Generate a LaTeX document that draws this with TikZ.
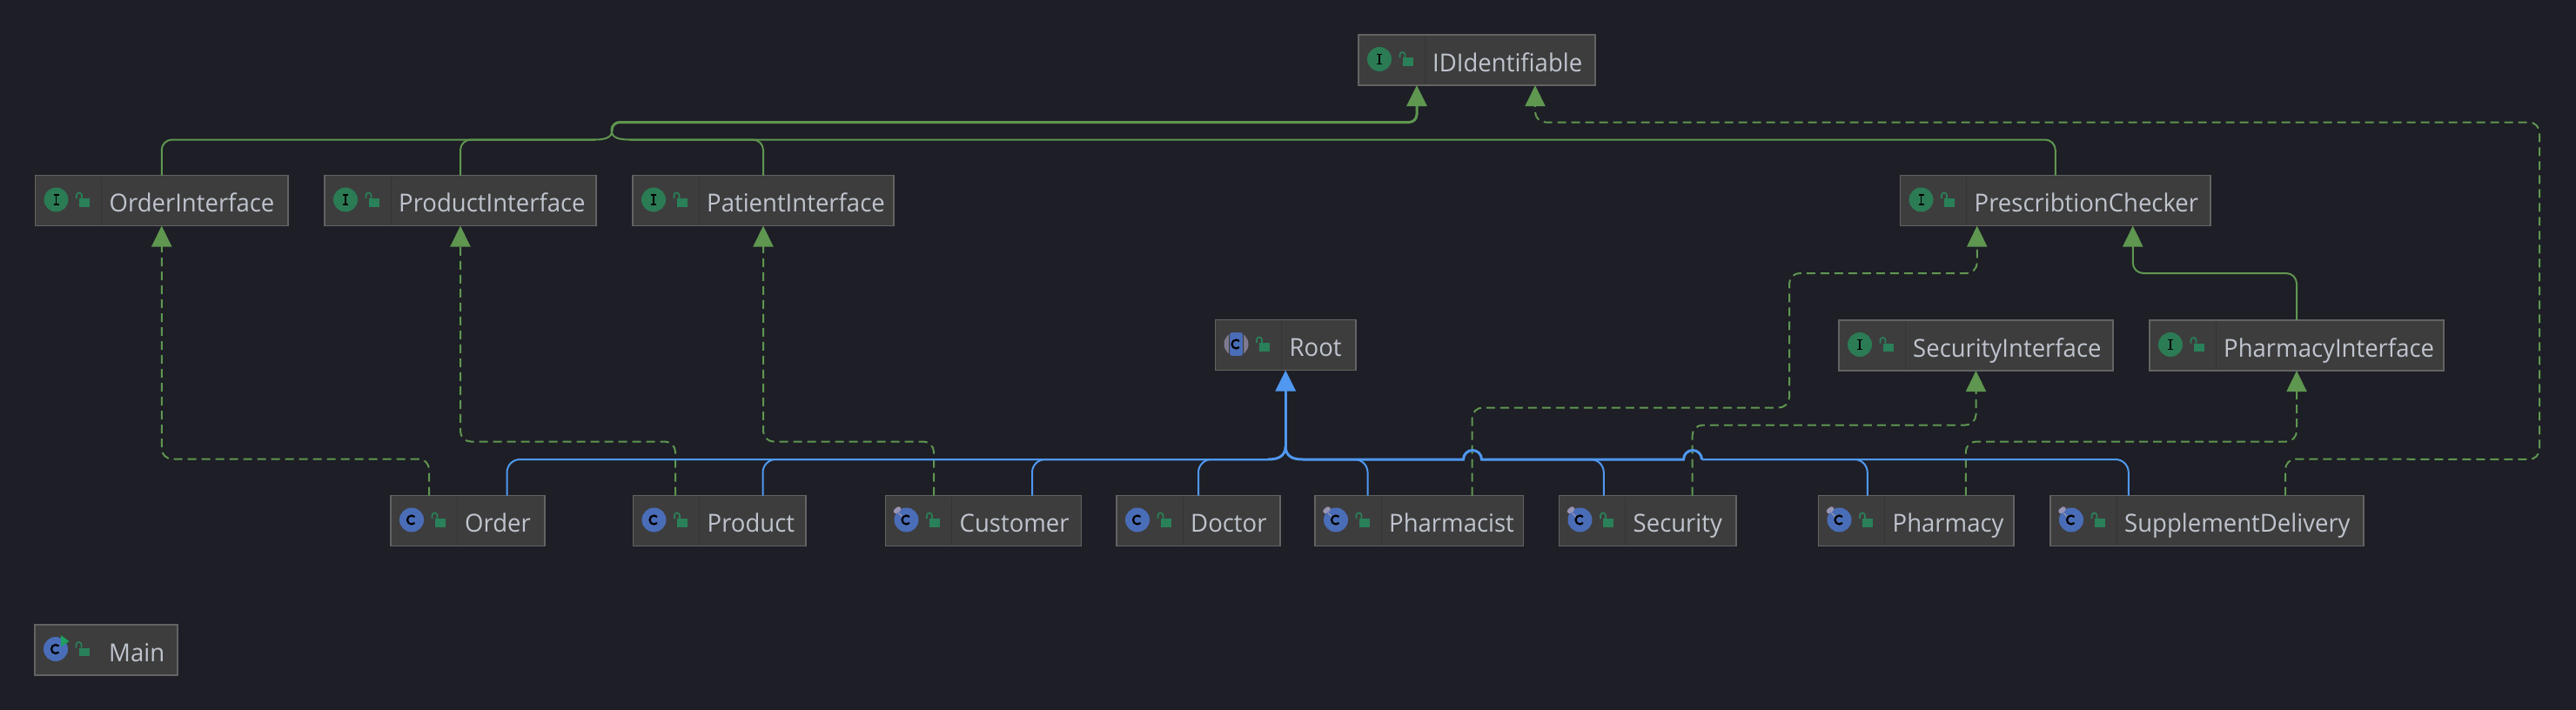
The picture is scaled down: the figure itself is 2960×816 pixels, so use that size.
\documentclass[tikz,border=0pt]{standalone}
\usepackage{fontspec}
\setmainfont{Open Sans}[FakeStretch=0.965]
\usepackage{tikz}
\usetikzlibrary{arrows.meta}
\definecolor{canvas}{HTML}{1D1E26}
\definecolor{boxfill}{HTML}{3D3D3D}
\definecolor{boxline}{HTML}{636363}
\definecolor{boxrule}{HTML}{353535}
\definecolor{labelgrey}{HTML}{BFC4CE}
\definecolor{edgegreen}{HTML}{5F9650}
\definecolor{edgeblue}{HTML}{5098F0}
\definecolor{iconblue}{HTML}{4A6DB8}
\definecolor{icongreen}{HTML}{2B7B55}
\definecolor{lockgreen}{HTML}{2A8059}
\definecolor{pingrey}{HTML}{9A94B4}
\definecolor{rungreen}{HTML}{1F9E60}
\tikzstyle{umlbox}=[draw=boxline, fill=boxfill, line width=1.5pt, inner sep=0, outer sep=0, minimum height=58]
\tikzstyle{umltext}=[anchor=west, xshift=85pt, yshift=-2pt, inner sep=0, text=labelgrey, text height=22pt, text depth=0pt,
                     font=\fontsize{28.5}{34}\selectfont]
\tikzstyle{inherits}=[edgegreen, line width=2pt, rounded corners=12]
\tikzstyle{implements}=[inherits, dash pattern=on 10pt off 6pt]
\tikzstyle{extends}=[edgeblue, line width=2pt, rounded corners=15]
\tikzstyle{opentip}=[-{Triangle[length=24pt, width=23pt]}]
\tikzset{
    % Divider and padlock, shared by every box.
    pics/boxhead/.style={code={
        \draw[boxrule, line width=1pt] (76, -28) -- (76, 28);
        \fill[lockgreen] (50.5, -2.5) rectangle (62.5, 7);
        \draw[lockgreen, line width=1.7pt, rounded corners=3] (47.5, -2.5) -- (47.5, -9) -- (53.5, -9) -- (53.5, -2.5);
    }},
    pics/ifacehead/.style={code={
        \pic {boxhead};
        \fill[icongreen] (24, -1) circle[radius=14];
        \draw[black, line width=1.6pt] (24, -6.5) -- (24, 4.5) (21, -6.5) -- (27, -6.5) (21, 4.5) -- (27, 4.5);
    }},
    pics/classglyph/.style={code={
        \draw[black, line width=2.2pt] (24, -1) +(45:5pt) arc[start angle=45, end angle=315, radius=5pt];
    }},
    pics/classhead/.style={code={
        \pic {boxhead};
        \fill[iconblue] (24, -1) circle[radius=14];
        \pic {classglyph};
    }},
    pics/pinhead/.style={code={
        \pic {classhead};
        \draw[pingrey, line width=5.5pt, line cap=round] (12, -11) -- (15, -13.5);
        \draw[pingrey, line width=1.2pt] (15, -9) -- (19, -5);
    }},
    pics/roothead/.style={code={
        \pic {boxhead};
        \fill[pingrey!70!boxfill] (24, -1) circle[radius=14];
        \fill[iconblue, draw=boxfill, line width=1pt, rounded corners=3] (16, -15) rectangle (32, 13);
        \pic {classglyph};
    }},
    pics/mainhead/.style={code={
        \fill[lockgreen] (50.5, -2.5) rectangle (62.5, 7);
        \draw[lockgreen, line width=1.7pt, rounded corners=3] (47.5, -2.5) -- (47.5, -9) -- (53.5, -9) -- (53.5, -2.5);
        \fill[iconblue] (24, -1) circle[radius=14];
        \pic {classglyph};
        \fill[rungreen] (30, -17) -- (39.5, -10) -- (30, -3.5) -- cycle;
    }},
}
\begin{document}
\begin{tikzpicture}[x=1pt, y=-1pt]
    \fill[canvas] (0, 0) rectangle (2960, 816);

    \node[umlbox, minimum width=272, label={[umltext]west:IDIdentifiable}] (IDIdentifiable) at (1697, 69) {};
    \node[umlbox, minimum width=290.5, label={[umltext]west:OrderInterface}] (OrderInterface) at (185.75, 230.5) {};
    \node[umlbox, minimum width=312, label={[umltext]west:ProductInterface}] (ProductInterface) at (529, 230.5) {};
    \node[umlbox, minimum width=300, label={[umltext]west:PatientInterface}] (PatientInterface) at (877, 230.5) {};
    \node[umlbox, minimum width=356.5, label={[umltext]west:PrescribtionChecker}] (PrescribtionChecker) at (2361.75, 230.5) {};
    \node[umlbox, minimum width=161.5, label={[umltext]west:Root}] (Root) at (1477.25, 396.5) {};
    \node[umlbox, minimum width=315, label={[umltext]west:SecurityInterface}] (SecurityInterface) at (2270.5, 397) {};
    \node[umlbox, minimum width=338, label={[umltext]west:PharmacyInterface}] (PharmacyInterface) at (2639, 397) {};
    \node[umlbox, minimum width=177, label={[umltext]west:Order}] (Order) at (537.5, 598.5) {};
    \node[umlbox, minimum width=198.5, label={[umltext]west:Product}] (Product) at (826.75, 598.5) {};
    \node[umlbox, minimum width=225, label={[umltext]west:Customer}] (Customer) at (1130, 598.5) {};
    \node[umlbox, minimum width=188, label={[umltext]west:Doctor}] (Doctor) at (1377, 598.5) {};
    \node[umlbox, minimum width=239.5, label={[umltext]west:Pharmacist}] (Pharmacist) at (1630.75, 598.5) {};
    \node[umlbox, minimum width=203.5, label={[umltext]west:Security}] (Security) at (1893.25, 598.5) {};
    \node[umlbox, minimum width=224.5, label={[umltext]west:Pharmacy}] (Pharmacy) at (2201.75, 598.5) {};
    \node[umlbox, minimum width=360, label={[umltext]west:SupplementDelivery}] (SupplementDelivery) at (2536, 598.5) {};
    \node[umlbox, minimum width=164, label={[umltext]west:Main}] (Main) at (122, 747) {};

    \pic at (IDIdentifiable.west) {ifacehead};
    \pic at (OrderInterface.west) {ifacehead};
    \pic at (ProductInterface.west) {ifacehead};
    \pic at (PatientInterface.west) {ifacehead};
    \pic at (PrescribtionChecker.west) {ifacehead};
    \pic at (SecurityInterface.west) {ifacehead};
    \pic at (PharmacyInterface.west) {ifacehead};
    \pic at (Root.west) {roothead};
    \pic at (Order.west) {classhead};
    \pic at (Product.west) {classhead};
    \pic at (Doctor.west) {classhead};
    \pic at (Customer.west) {pinhead};
    \pic at (Pharmacist.west) {pinhead};
    \pic at (Security.west) {pinhead};
    \pic at (Pharmacy.west) {pinhead};
    \pic at (SupplementDelivery.west) {pinhead};
    \pic at (Main.west) {mainhead};

    % Where the green branches meet, on their way up to IDIdentifiable.
    \coordinate (greenjoin) at (703, 151);
    \coordinate (greenleft) at (684, 160.5);
    \coordinate (greenright) at (723, 160.5);
    \draw[inherits, line width=3pt, rounded corners=9, opentip] (greenjoin) -- (703, 140.5) -- (1628, 140.5) -- ([xshift=-69pt]IDIdentifiable.south);
    \draw[inherits, rounded corners=0] (greenleft) .. controls (695, 160.5) and (703, 158) .. (greenjoin);
    \draw[inherits, rounded corners=0] (greenright) .. controls (711, 160.5) and (703, 158) .. (greenjoin);
    \draw[inherits] (OrderInterface.north) |- (greenleft);
    \draw[inherits] (ProductInterface.north) |- (greenleft);
    \draw[inherits] (PatientInterface.north) |- (greenright);
    \draw[inherits] (PrescribtionChecker.north) |- (greenright);
    \draw[inherits, opentip] (PharmacyInterface.north) -- +(0, -54) -| ([xshift=89pt]PrescribtionChecker.south);

    % The dashed ones.
    \draw[implements, opentip] ([xshift=-44.5pt]Order.north) -- +(0, -42) -| (OrderInterface.south);
    \draw[implements, opentip] ([xshift=-50.75pt]Product.north) -- +(0, -62) -| (ProductInterface.south);
    \draw[implements, opentip] ([xshift=-57pt]Customer.north) -- +(0, -62) -| (PatientInterface.south);
    \draw[implements, opentip] ([xshift=60.85pt]Pharmacist.north) -- +(0, -101) -- (2056, 468.5) -- (2056, 314) -| ([xshift=-90pt]PrescribtionChecker.south);
    \draw[implements, opentip] ([xshift=51.35pt]Security.north) -- +(0, -81) -| (SecurityInterface.south);
    \draw[implements, opentip] ([xshift=57pt]Pharmacy.north) -- +(0, -62) -| (PharmacyInterface.south);
    \draw[implements, opentip] ([xshift=90pt]SupplementDelivery.north) -- +(0, -42) -- (2918, 528) -- (2918, 140.5) -| ([xshift=67pt]IDIdentifiable.south);

    % Blue bus into Root, with its two hops over the dashed lines.
    \coordinate (rootjoin) at ([yshift=-87pt]Root.south);
    \coordinate (busleft) at (1457, 528);
    \coordinate (busright) at (1497, 528);
    \coordinate (hopone) at (1702.5, 528);
    \coordinate (hoptwo) at (1955.5, 528);
    \draw[extends, line width=3pt, opentip] (rootjoin) -- (Root.south);
    \draw[extends, line width=3pt, rounded corners=0] (busleft) .. controls (1468, 528) and (1477, 525) .. (rootjoin);
    \draw[extends, line width=3pt, rounded corners=0] (busright) .. controls (1486, 528) and (1477, 525) .. (rootjoin);
    \draw[extends, line width=3pt, rounded corners=0] (hoptwo) arc[start angle=0, end angle=180, radius=10.5pt] -- (hopone) arc[start angle=0, end angle=180, radius=10.5pt] -- (busright);
    \draw[extends] ([xshift=45pt]Order.north) |- (busleft);
    \draw[extends] ([xshift=49.75pt]Product.north) |- (busleft);
    \draw[extends] ([xshift=56pt]Customer.north) |- (busleft);
    \draw[extends] (Doctor.north) |- (busleft);
    \draw[extends] ([xshift=-59.25pt]Pharmacist.north) |- (busright);
    \draw[extends] ([xshift=-50.45pt]Security.north) |- (hopone);
    \draw[extends] ([xshift=-56pt]Pharmacy.north) |- (hoptwo);
    \draw[extends] ([xshift=-90.2pt]SupplementDelivery.north) |- (hoptwo);
\end{tikzpicture}
\end{document}
